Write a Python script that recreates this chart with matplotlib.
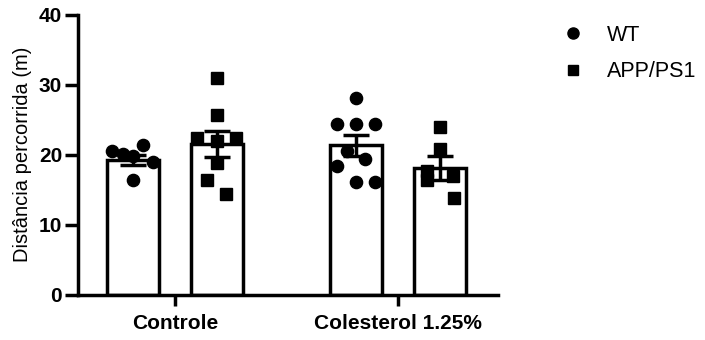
import matplotlib
matplotlib.use("Agg")
import matplotlib.pyplot as plt
from matplotlib.lines import Line2D
import numpy as np

plt.rcParams['font.family'] = ['Liberation Sans', 'DejaVu Sans']

# ---- data ----
groups = ["Controle", "Colesterol 1.25%"]
series = ["WT", "APP/PS1"]
means = {"WT": [19.2, 21.3], "APP/PS1": [21.5, 18.1]}
sems = {"WT": [0.7, 1.55], "APP/PS1": [1.9, 1.7]}
points_ctrl_wt = [20.5, 20.1, 19.8, 21.4, 18.9, 16.3]
points_ctrl_app = [22.3, 30.9, 25.7, 21.9, 22.3, 18.8, 16.4, 14.4]
points_col_wt = [28.1, 24.4, 24.4, 24.4, 20.5, 19.4, 18.4, 16.1, 16.1]
points_col_app = [24.0, 20.8, 17.7, 16.3, 17.0, 13.8]
yticks = [0, 10, 20, 30, 40]

# ---- layout (horizontal jitter of points, pixels) ----
jit_ctrl_wt = [-21, -10, 0, 10, 20, 0]
jit_ctrl_app = [-20, 0, 0, 0, 19, 0, -10, 9]
jit_col_wt = [0, -19, 0, 19, -9, 9, -19, 0, 19]
jit_col_app = [0, 0, -13, -13, 13, 14]
px_per_unit = 223.0

fig = plt.figure(figsize=(7.05, 3.4), dpi=100)
ax = fig.add_axes([78/705, 45.5/340, (498-78)/705, (295-15)/340])

lw = 2.5
offset = 42 / px_per_unit
width = 52 / px_per_unit
xg = np.arange(len(groups))

pts = {"WT": [points_ctrl_wt, points_col_wt], "APP/PS1": [points_ctrl_app, points_col_app]}
jits = {"WT": [jit_ctrl_wt, jit_col_wt], "APP/PS1": [jit_ctrl_app, jit_col_app]}
markers = {"WT": "o", "APP/PS1": "s"}
msizes = {"WT": 8.8, "APP/PS1": 8.2}

for si, s in enumerate(series):
    xc = xg + (offset if si == 1 else -offset)
    ax.bar(xc, means[s], width=width, facecolor="white", edgecolor="black",
           linewidth=lw, zorder=2)
    for gi in range(len(groups)):
        xs = xc[gi] + np.array(jits[s][gi]) / px_per_unit
        ax.plot(xs, pts[s][gi], linestyle="none", marker=markers[s],
                markersize=msizes[s], color="black", zorder=3)
    ax.errorbar(xc, means[s], yerr=sems[s], fmt="none", ecolor="black",
                elinewidth=lw, capsize=9.4, capthick=lw, zorder=4)

ax.set_xlim(-0.435, 1.448)
ax.set_ylim(0, 40)
ax.set_yticks(yticks)
ax.set_yticklabels([str(t) for t in yticks], fontsize=15, fontweight="bold")
ax.set_xticks(xg)
ax.set_xticklabels(groups, fontsize=15, fontweight="bold")
ax.tick_params(axis="y", length=9.4, width=lw, pad=2)
ax.tick_params(axis="x", length=8, width=lw, pad=6)
for sp in ["top", "right"]:
    ax.spines[sp].set_visible(False)
for sp in ["left", "bottom"]:
    ax.spines[sp].set_linewidth(lw)
ax.spines["left"].set_capstyle("projecting")
ax.set_ylabel("Distância percorrida (m)", fontsize=14.5, labelpad=5)

handles = [Line2D([], [], linestyle="none", marker="o", markersize=8, color="black"),
           Line2D([], [], linestyle="none", marker="s", markersize=7.2, color="black")]
fig.legend(handles, series, loc="center left", bbox_to_anchor=(562/705, 1-53.5/340),
           frameon=False, fontsize=15.5, handlelength=1.0, handletextpad=1.08,
           labelspacing=0.7, borderpad=0, borderaxespad=0)

fig.savefig("out.png", dpi=100)
